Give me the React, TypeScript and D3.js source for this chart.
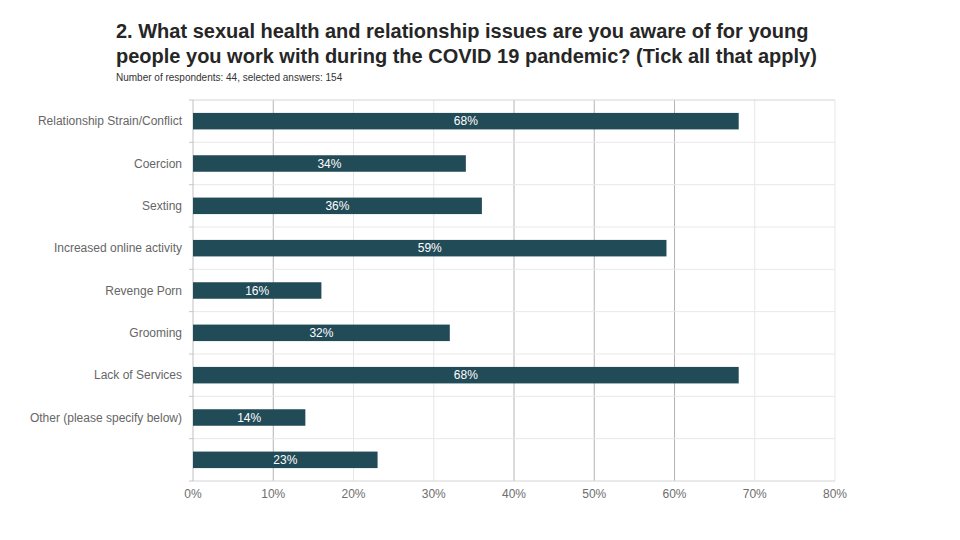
import React from "react";
import * as d3 from "d3";

const categories = [
  "Relationship Strain/Conflict",
  "Coercion",
  "Sexting",
  "Increased online activity",
  "Revenge Porn",
  "Grooming",
  "Lack of Services",
  "Other (please specify below)",
  "",
];
const values = [68, 34, 36, 59, 16, 32, 68, 14, 23];
const xTicks = [0, 10, 20, 30, 40, 50, 60, 70, 80];
const darkGrid = [10, 40, 50, 60];
const titleLines = [
  "2. What sexual health and relationship issues are you aware of for young",
  "people you work with during the COVID 19 pandemic? (Tick all that apply)",
];
const subtitle = "Number of respondents: 44, selected answers: 154";

export default function App() {
  const W = 960, H = 540;
  const left = 193, right = 835, top = 100, bottom = 481;
  const x = d3.scaleLinear().domain([0, 80]).range([left, right]);
  const y = d3.scaleBand<number>().domain(d3.range(categories.length)).range([top, bottom]).paddingInner(0.61).paddingOuter(0.305);
  const bandStep = (bottom - top) / categories.length;
  const boundaries = d3.range(categories.length + 1).map((i) => top + i * bandStep);
  const font = "'Liberation Sans', Arial, sans-serif";
  return (
    <svg width={W} height={H} style={{ position: "absolute", left: 0, top: 0, background: "#fff" }} fontFamily={font}>
      <rect width={W} height={H} fill="#fff" />
      {titleLines.map((t, i) => (
        <text key={i} x={116} y={38 + i * 24.5} fontSize={20} fontWeight="bold" fill="#262626">{t}</text>
      ))}
      <text x={116} y={81} fontSize={10} fill="#333">{subtitle}</text>
      {xTicks.map((t) => (
        t === 0 ? null : (
          <line key={"g" + t} x1={x(t)} x2={x(t)} y1={top} y2={bottom}
            stroke={darkGrid.includes(t) ? "#b4b4b4" : "#e6e6e6"} strokeWidth={1} />
        )
      ))}
      {boundaries.map((b, i) => (
        <g key={"h" + i}>
          <line x1={left} x2={right} y1={b} y2={b} stroke={i === 0 || i === categories.length ? "#d4d4d4" : "#e8e8e8"} strokeWidth={1} />
          <line x1={left - 4} x2={left} y1={b} y2={b} stroke="#c8c8c8" strokeWidth={1} />
        </g>
      ))}
      <line x1={left} x2={left} y1={top} y2={bottom} stroke="#c0c0c0" strokeWidth={1} />
      {values.map((v, i) => (
        <g key={"b" + i}>
          <rect x={x(0)} y={y(i)} width={x(v) - x(0)} height={y.bandwidth()} fill="#224b58" />
          <text x={(x(0) + x(v)) / 2} y={(y(i) as number) + y.bandwidth() / 2 + 4} fontSize={12} fill="#fff" textAnchor="middle">{v}%</text>
          <text x={182} y={(y(i) as number) + y.bandwidth() / 2 + 4} fontSize={12} fill="#666" textAnchor="end">{categories[i]}</text>
        </g>
      ))}
      {xTicks.map((t) => (
        <text key={"t" + t} x={x(t)} y={498} fontSize={12} fill="#6e6e6e" textAnchor="middle">{t}%</text>
      ))}
    </svg>
  );
}
